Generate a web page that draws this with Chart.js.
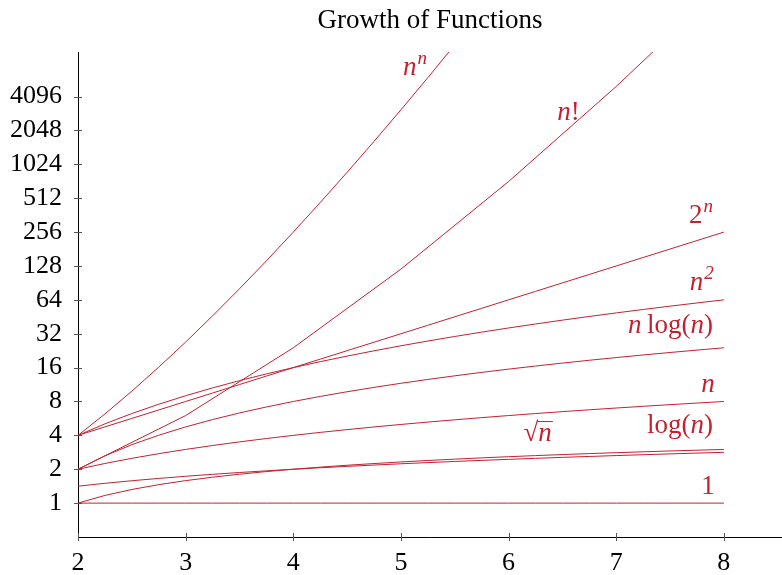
<!DOCTYPE html>
<html>
<head>
<meta charset="utf-8">
<script src="https://cdn.jsdelivr.net/npm/chart.js@4.4.0/dist/chart.umd.min.js"></script>
<style>
	body { margin: 0; background: #fff; }
	#wrap { width: 782px; height: 575px; }
</style>
</head>
<body>
<div id="wrap"><canvas id="growth" width="782" height="575"></canvas></div>
<script>
// sample points (n = 2 .. 8, step 0.25)
const xs = [2, 2.25, 2.5, 2.75, 3, 3.25, 3.5, 3.75, 4, 4.25, 4.5, 4.75, 5, 5.25, 5.5, 5.75, 6, 6.25, 6.5, 6.75, 7, 7.25, 7.5, 7.75, 8];

const constOne = [1, 1, 1, 1, 1, 1, 1, 1, 1, 1, 1, 1, 1, 1, 1, 1, 1, 1, 1, 1, 1, 1, 1, 1, 1];
const logN = [1, 1.17, 1.322, 1.459, 1.585, 1.7, 1.807, 1.907, 2, 2.088, 2.17, 2.248, 2.322, 2.392, 2.459, 2.524, 2.585, 2.644, 2.7, 2.755, 2.807, 2.858, 2.907, 2.954, 3];
const sqrtN = [1.414, 1.5, 1.581, 1.658, 1.732, 1.803, 1.871, 1.936, 2, 2.062, 2.121, 2.179, 2.236, 2.291, 2.345, 2.398, 2.449, 2.5, 2.55, 2.598, 2.646, 2.693, 2.739, 2.784, 2.828];
const linN = [2, 2.25, 2.5, 2.75, 3, 3.25, 3.5, 3.75, 4, 4.25, 4.5, 4.75, 5, 5.25, 5.5, 5.75, 6, 6.25, 6.5, 6.75, 7, 7.25, 7.5, 7.75, 8];
const nLogN = [2, 2.632, 3.305, 4.013, 4.755, 5.526, 6.326, 7.151, 8, 8.872, 9.765, 10.678, 11.61, 12.56, 13.527, 14.511, 15.51, 16.524, 17.553, 18.596, 19.652, 20.721, 21.802, 22.895, 24];
const nSquared = [4, 5.063, 6.25, 7.563, 9, 10.563, 12.25, 14.063, 16, 18.063, 20.25, 22.563, 25, 27.563, 30.25, 33.063, 36, 39.063, 42.25, 45.563, 49, 52.563, 56.25, 60.063, 64];
const twoPowN = [4, 4.757, 5.657, 6.727, 8, 9.514, 11.314, 13.454, 16, 19.027, 22.627, 26.909, 32, 38.055, 45.255, 53.817, 64, 76.109, 90.51, 107.63, 128, 152.22, 181.02, 215.27, 256];
const nPowN = [4, 6.2, 9.882, 16.15, 27, 46.09, 80.21, 142.1, 256, 468.6, 869.9, 1637, 3125, 6039, 11803, 23338, 46656];

// factorial only at whole numbers
const factX = [2, 3, 4, 5, 6, 7, 8];
const factN = [2, 6, 24, 120, 720, 5040, 40320];

const xTicks = [2, 3, 4, 5, 6, 7, 8];
const yTicks = [1, 2, 4, 8, 16, 32, 64, 128, 256, 512, 1024, 2048, 4096];

const RED = '#c4202f';
const FONT = '"Liberation Serif", "DejaVu Serif", serif';

// labels next to the curves: parts + anchor (right edge, baseline) in data units
const curveLabels = [
	{parts: [['n', 'i'], ['n', 'sup']], x: 5.241, y: 6430},
	{parts: [['n', 'i'], ['!', '']], x: 6.662, y: 2560},
	{parts: [['2', ''], ['n', 'sup']], x: 7.898, y: 310},
	{parts: [['n', 'i'], ['2', 'sup']], x: 7.907, y: 78.6},
	{parts: [['n', 'i'], ['\u2009log(', ''], ['n', 'i'], [')', '']], x: 7.898, y: 32.6},
	{parts: [['n', 'i']], x: 7.916, y: 9.72},
	{parts: [['log(', ''], ['n', 'i'], [')', '']], x: 7.898, y: 4.2},
	{parts: [['\u221A', ''], ['n', 'isq']], x: 6.402, y: 3.56},
	{parts: [['1', '']], x: 7.916, y: 1.2}
];

function pts(xArr, yArr) {
	let out = [];
	for (let i = 0; i < yArr.length; i++) {
		out.push({x: xArr[i], y: yArr[i]});
	}
	return out;
}

function line(label, data) {
	return {
		label: label,
		data: data,
		borderColor: RED,
		borderWidth: 1,
		pointRadius: 0,
		tension: 0,
		fill: false
	};
}

function fontFor(kind) {
	if (kind === 'sup') return 'italic 19px ' + FONT;
	if (kind === 'i' || kind === 'isq') return 'italic 27px ' + FONT;
	return '27px ' + FONT;
}

// title, crossing tick marks and curve labels
const extras = {
	id: 'extras',
	afterDraw(chart) {
		const ctx = chart.ctx;
		const area = chart.chartArea;
		const sx = chart.scales.x;
		const sy = chart.scales.y;
		ctx.save();

		ctx.fillStyle = '#000';
		ctx.font = '27px ' + FONT;
		ctx.textAlign = 'center';
		ctx.textBaseline = 'middle';
		ctx.fillText('Growth of Functions', (area.left + area.right) / 2, 21);

		ctx.strokeStyle = '#555';
		ctx.lineWidth = 1;
		ctx.beginPath();
		xTicks.forEach(v => {
			const px = Math.round(sx.getPixelForValue(v)) + 0.5;
			ctx.moveTo(px, area.bottom - 4);
			ctx.lineTo(px, area.bottom + 4);
		});
		yTicks.forEach(v => {
			const py = Math.round(sy.getPixelForValue(v)) + 0.5;
			ctx.moveTo(area.left - 4, py);
			ctx.lineTo(area.left + 4, py);
		});
		ctx.stroke();

		ctx.fillStyle = RED;
		ctx.strokeStyle = RED;
		ctx.textAlign = 'left';
		ctx.textBaseline = 'alphabetic';
		curveLabels.forEach(lab => {
			let total = 0;
			lab.parts.forEach(p => {
				ctx.font = fontFor(p[1]);
				total += ctx.measureText(p[0]).width + (p[1] === 'sup' ? 1 : 0);
			});
			let px = sx.getPixelForValue(lab.x) - total;
			const base = sy.getPixelForValue(lab.y);
			lab.parts.forEach(p => {
				ctx.font = fontFor(p[1]);
				const w = ctx.measureText(p[0]).width;
				if (p[1] === 'sup') {
					ctx.fillText(p[0], px + 1, base - 11);
					px += w + 1;
				} else {
					ctx.fillText(p[0], px, base);
					if (p[1] === 'isq') {
						ctx.beginPath();
						ctx.moveTo(px - 1, base - 19.5);
						ctx.lineTo(px + w + 1, base - 19.5);
						ctx.stroke();
					}
					px += w;
				}
			});
		});
		ctx.restore();
	}
};

const chart = new Chart(document.getElementById('growth'), {
	type: 'line',
	data: {
		datasets: [
			line('1', pts(xs, constOne)),
			line('log(n)', pts(xs, logN)),
			line('sqrt(n)', pts(xs, sqrtN)),
			line('n', pts(xs, linN)),
			line('n log(n)', pts(xs, nLogN)),
			line('n^2', pts(xs, nSquared)),
			line('2^n', pts(xs, twoPowN)),
			line('n!', pts(factX, factN)),
			line('n^n', pts(xs, nPowN))
		]
	},
	options: {
		responsive: false,
		animation: false,
		layout: {padding: {top: 52, left: 0, right: 0, bottom: 0}},
		plugins: {
			legend: {display: false},
			title: {display: false},
			tooltip: {enabled: false}
		},
		scales: {
			x: {
				type: 'linear',
				min: 2,
				max: 8.54,
				grid: {display: false, drawTicks: false},
				border: {display: true, color: '#000', width: 1},
				ticks: {
					color: '#000',
					font: {family: FONT, size: 26},
					padding: 11,
					autoSkip: false,
					maxRotation: 0,
					callback: v => String(v)
				},
				afterBuildTicks: s => { s.ticks = xTicks.map(v => ({value: v})); },
				afterFit: s => { s.height = 38; }
			},
			y: {
				type: 'logarithmic',
				min: 0.5,
				max: 10200,
				grid: {display: false, drawTicks: false},
				border: {display: true, color: '#000', width: 1},
				ticks: {
					color: '#000',
					font: {family: FONT, size: 26},
					padding: 16,
					autoSkip: false,
					callback: v => String(v)
				},
				afterBuildTicks: s => { s.ticks = yTicks.map(v => ({value: v})); },
				afterFit: s => { s.width = 78; }
			}
		}
	},
	plugins: [extras]
});
</script>
</body>
</html>
